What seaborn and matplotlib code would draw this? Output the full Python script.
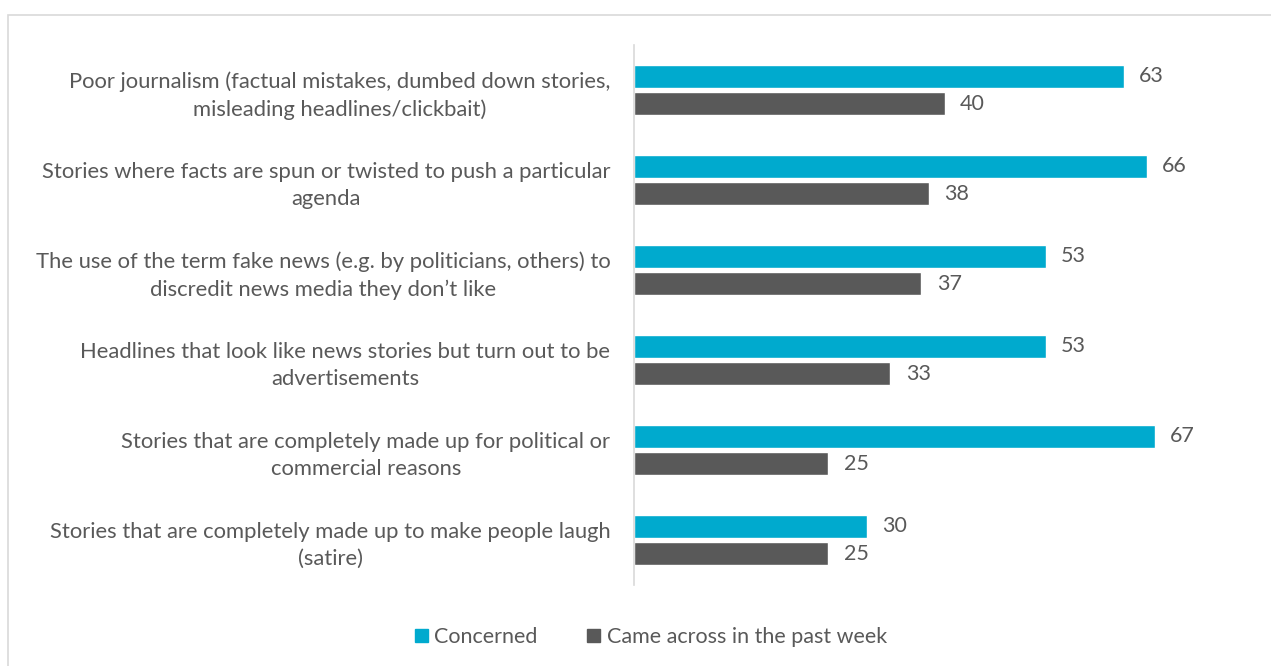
import matplotlib
matplotlib.use("Agg")
import matplotlib.pyplot as plt
import seaborn as sns
import pandas as pd
from matplotlib.patches import Rectangle

categories = [
    "Poor journalism (factual mistakes, dumbed down stories,\nmisleading headlines/clickbait)",
    "Stories where facts are spun or twisted to push a particular\nagenda",
    "The use of the term fake news (e.g. by politicians, others) to\ndiscredit news media they don\u2019t like",
    "Headlines that look like news stories but turn out to be\nadvertisements",
    "Stories that are completely made up for political or\ncommercial reasons",
    "Stories that are completely made up to make people laugh\n(satire)",
]
series_names = ["Concerned", "Came across in the past week"]
concerned = [63, 66, 53, 53, 67, 30]
came_across = [40, 38, 37, 33, 25, 25]

colors = ["#00AACE", "#595959"]
text_color = "#595959"

sns.set_theme(style="white")
plt.rcParams["font.family"] = ["Lato", "DejaVu Sans"]

df = pd.DataFrame({
    "category": categories * 2,
    "value": concerned + came_across,
    "series": [series_names[0]] * 6 + [series_names[1]] * 6,
})

W, H = 1271, 666
fig = plt.figure(figsize=(W / 100, H / 100), dpi=100)
x0 = 634
ppu = 7.77
xmax = 80
ax = fig.add_axes([x0 / W, 1 - 585 / H, xmax * ppu / W, 540 / H])

sns.barplot(data=df, y="category", x="value", hue="series", order=categories,
            hue_order=series_names, palette=colors, width=0.6, gap=0.185,
            orient="h", ax=ax, legend=False, saturation=1)

for cont in ax.containers:
    ax.bar_label(cont, fmt="%d", padding=11, fontsize=15.5, color=text_color)

ax.set_xlim(0, xmax)
ax.set_ylim(5.5, -0.5)
ax.set_xlabel("")
ax.set_ylabel("")
ax.set_xticks([])
for s in ["top", "right", "bottom"]:
    ax.spines[s].set_visible(False)
ax.spines["left"].set_color("#d9d9d9")
ax.spines["left"].set_linewidth(1.2)
ax.tick_params(axis="y", length=0, pad=17, labelsize=15.8, labelcolor=text_color)
for lbl in ax.get_yticklabels():
    lbl.set_multialignment("center")
    lbl.set_linespacing(1.45)

handles = [Rectangle((0, 0), 1, 1, color=c) for c in colors]
fig.legend(handles, series_names, loc="center", bbox_to_anchor=(651 / W, 1 - 637 / H),
           ncol=2, frameon=False, fontsize=15.5, labelcolor=text_color,
           handlelength=0.6, handleheight=0.6, handletextpad=0.3, columnspacing=2.3)

fig.patches.append(Rectangle((8 / W, -0.1), 1.2, 1 - 15 / H + 0.1, transform=fig.transFigure,
                             fill=False, edgecolor="#d9d9d9", linewidth=1.2))

fig.savefig("out.png", dpi=100)
